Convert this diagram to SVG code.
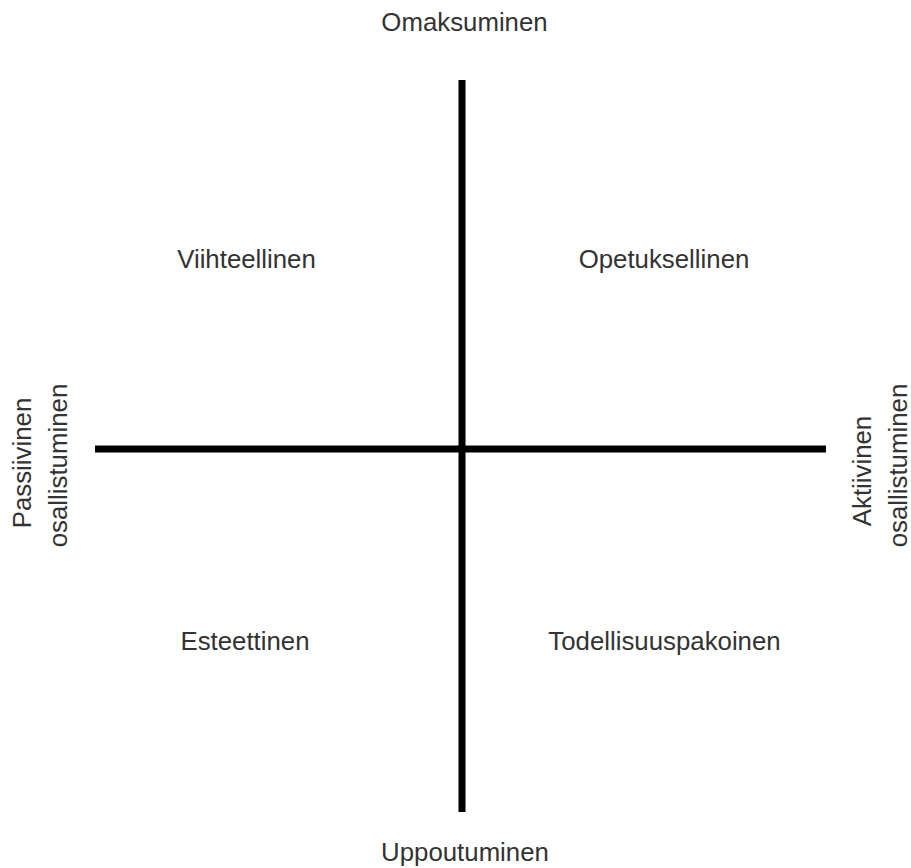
<svg xmlns="http://www.w3.org/2000/svg" width="911" height="868" viewBox="0 0 911 868">
<style>
.t{font-family:"Liberation Sans",Arial,sans-serif;font-size:25.8px;fill:#333333;text-anchor:middle}
.ax{stroke:#000000;stroke-width:7;fill:none}
</style>
<rect width="911" height="868" fill="#ffffff"/>
<g id="connectors">
<line class="ax" x1="462" y1="80" x2="462" y2="812"/>
<line class="ax" x1="95" y1="449" x2="826" y2="449"/>
</g>
<g id="top"><text class="t" x="464.5" y="31">Omaksuminen</text></g>
<g id="bottom"><text class="t" x="465" y="861">Uppoutuminen</text></g>
<g id="q1"><text class="t" x="246.5" y="268">Viihteellinen</text></g>
<g id="q2"><text class="t" x="664" y="268">Opetuksellinen</text></g>
<g id="q3"><text class="t" x="245" y="650">Esteettinen</text></g>
<g id="q4"><text class="t" x="664.5" y="650">Todellisuuspakoinen</text></g>
<g id="left">
<text class="t" transform="translate(31,463) rotate(-90)">Passiivinen</text>
<text class="t" transform="translate(67,465.5) rotate(-90)">osallistuminen</text>
</g>
<g id="right">
<text class="t" transform="translate(870.5,471) rotate(-90)">Aktiivinen</text>
<text class="t" transform="translate(907,465.5) rotate(-90)">osallistuminen</text>
</g>
</svg>
